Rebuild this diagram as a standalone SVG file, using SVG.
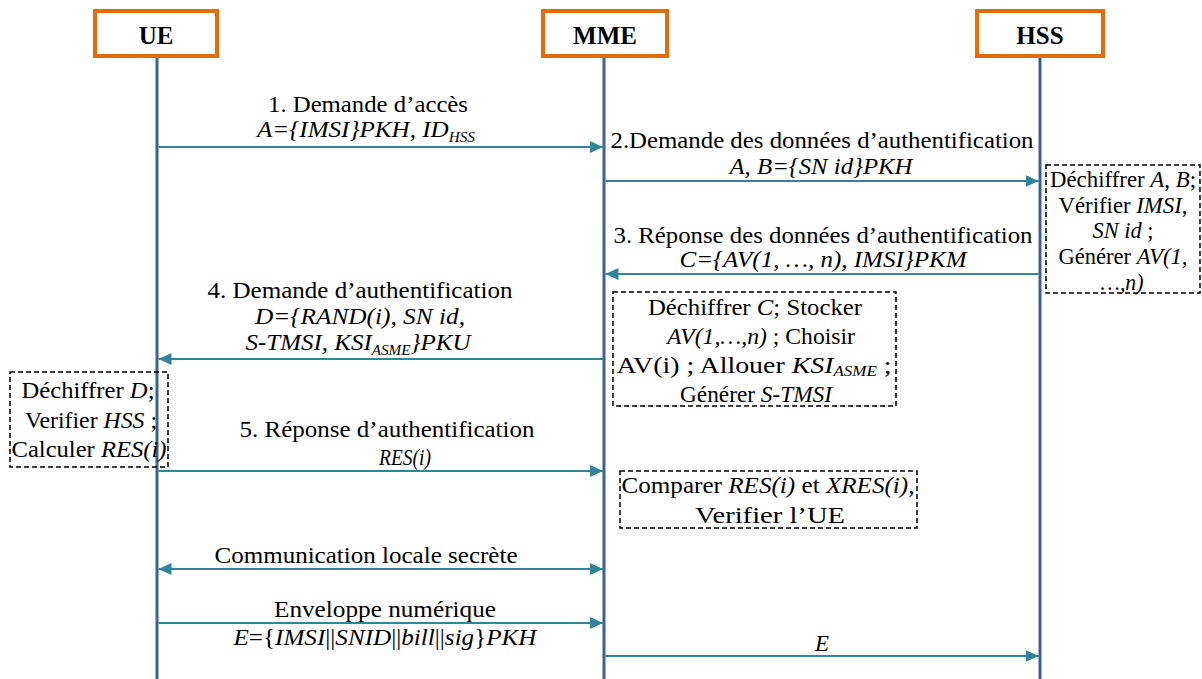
<svg xmlns="http://www.w3.org/2000/svg" width="1202" height="679" viewBox="0 0 1202 679">
<style>
.t{font-family:'Liberation Serif','DejaVu Serif',serif;font-size:23px;fill:#000;text-anchor:middle}
.i{font-style:italic}
.s{font-size:14px}
.title{font-family:'Liberation Serif','DejaVu Serif',serif;font-size:25px;font-weight:bold;text-anchor:middle;fill:#000}
.life{stroke:#3A6395;stroke-width:3;fill:none}
.msg{stroke:#31849B;stroke-width:2.2;fill:none}
.note{fill:none;stroke:#000;stroke-width:1.5;stroke-dasharray:5 3}
.actor{fill:#fff;stroke:#E46C0A;stroke-width:4}
</style>
<defs>
<marker id="ah" markerUnits="userSpaceOnUse" markerWidth="13" markerHeight="12" refX="13" refY="6" orient="auto-start-reverse">
<path d="M0,0 L13,6 L0,12 z" fill="#31849B"/>
</marker>
</defs>
<rect width="1202" height="679" fill="#fff"/>
<g id="lifelines">
<line class="life" x1="157" y1="56" x2="157" y2="679"/>
<line class="life" x1="604" y1="56" x2="604" y2="679"/>
<line class="life" x1="1040" y1="56" x2="1040" y2="679"/>
</g>
<g id="UE"><rect class="actor" x="95" y="11" width="122" height="45"/><text class="title" x="156" y="44">UE</text></g>
<g id="MME"><rect class="actor" x="543" y="11" width="124" height="45"/><text class="title" x="605" y="44">MME</text></g>
<g id="HSS"><rect class="actor" x="977" y="11" width="126" height="45"/><text class="title" x="1040" y="44">HSS</text></g>
<g id="connectors">
<line class="msg" x1="158.5" y1="147" x2="603" y2="147" marker-end="url(#ah)"/>
<line class="msg" x1="605.5" y1="181" x2="1038.5" y2="181" marker-end="url(#ah)"/>
<line class="msg" x1="1038.5" y1="274" x2="605.5" y2="274" marker-end="url(#ah)"/>
<line class="msg" x1="603" y1="359" x2="158.5" y2="359" marker-end="url(#ah)"/>
<line class="msg" x1="158.5" y1="471" x2="603" y2="471" marker-end="url(#ah)"/>
<line class="msg" x1="158.5" y1="569" x2="603" y2="569" marker-start="url(#ah)" marker-end="url(#ah)"/>
<line class="msg" x1="158.5" y1="623" x2="603" y2="623" marker-end="url(#ah)"/>
<line class="msg" x1="605.5" y1="656" x2="1038.5" y2="656" marker-end="url(#ah)"/>
</g>
<g id="labels">
<text class="t" x="368" y="112" textLength="200" lengthAdjust="spacingAndGlyphs">1. Demande d’accès</text>
<text class="t i" x="366" y="137" textLength="218" lengthAdjust="spacingAndGlyphs">A={IMSI}PKH, ID<tspan class="s" dy="5">HSS</tspan></text>
<text class="t" x="822" y="148" textLength="423" lengthAdjust="spacingAndGlyphs">2.Demande des données d’authentification</text>
<text class="t i" x="821" y="174" textLength="183" lengthAdjust="spacingAndGlyphs">A, B={SN id}PKH</text>
<text class="t" x="823" y="243" textLength="419" lengthAdjust="spacingAndGlyphs">3. Réponse des données d’authentification</text>
<text class="t i" x="823" y="267" textLength="287" lengthAdjust="spacingAndGlyphs">C={AV(1, …, n), IMSI}PKM</text>
<text class="t" x="360" y="298" textLength="305" lengthAdjust="spacingAndGlyphs">4. Demande d’authentification</text>
<text class="t i" x="360" y="324" textLength="210" lengthAdjust="spacingAndGlyphs">D={RAND(i), SN id,</text>
<text class="t i" x="358" y="350" textLength="225" lengthAdjust="spacingAndGlyphs">S-TMSI, KSI<tspan class="s" dy="5">ASME</tspan><tspan dy="-5">}PKU</tspan></text>
<text class="t" x="387" y="437" textLength="295" lengthAdjust="spacingAndGlyphs">5. Réponse d’authentification</text>
<text class="t i" x="405" y="465" textLength="52" lengthAdjust="spacingAndGlyphs">RES(i)</text>
<text class="t" x="366" y="563" textLength="303" lengthAdjust="spacingAndGlyphs">Communication locale secrète</text>
<text class="t" x="385" y="617" textLength="222" lengthAdjust="spacingAndGlyphs">Enveloppe numérique</text>
<text class="t" x="385" y="645" textLength="303" lengthAdjust="spacingAndGlyphs"><tspan class="i">E</tspan>={<tspan class="i">IMSI</tspan>||<tspan class="i">SNID</tspan>||<tspan class="i">bill</tspan>||<tspan class="i">sig</tspan>}<tspan class="i">PKH</tspan></text>
<text class="t i" x="822" y="651">E</text>
</g>
<g id="note-hss">
<rect class="note" x="1046" y="165" width="154" height="128"/>
<text class="t" x="1123" y="187" textLength="146" lengthAdjust="spacingAndGlyphs">Déchiffrer <tspan class="i">A</tspan>, <tspan class="i">B</tspan>;</text>
<text class="t" x="1123" y="213" textLength="129" lengthAdjust="spacingAndGlyphs">Vérifier <tspan class="i">IMSI</tspan>,</text>
<text class="t" x="1123" y="238" textLength="61" lengthAdjust="spacingAndGlyphs"><tspan class="i">SN id</tspan> ;</text>
<text class="t" x="1123" y="264" textLength="129" lengthAdjust="spacingAndGlyphs">Générer <tspan class="i">AV(1,</tspan></text>
<text class="t i" x="1122" y="290" textLength="43" lengthAdjust="spacingAndGlyphs">…,n)</text>
</g>
<g id="note-mme">
<rect class="note" x="613" y="292" width="283" height="114"/>
<text class="t" x="755" y="315" textLength="214" lengthAdjust="spacingAndGlyphs">Déchiffrer <tspan class="i">C</tspan>; Stocker</text>
<text class="t" x="761" y="344" textLength="188" lengthAdjust="spacingAndGlyphs"><tspan class="i">AV(1,…,n)</tspan> ; Choisir</text>
<text class="t" x="754" y="373" textLength="275" lengthAdjust="spacingAndGlyphs">AV(i) ; Allouer <tspan class="i">KSI</tspan><tspan class="s i" dy="3">ASME</tspan><tspan dy="-3"> ;</tspan></text>
<text class="t" x="756" y="402" textLength="152" lengthAdjust="spacingAndGlyphs">Générer <tspan class="i">S-TMSI</tspan></text>
</g>
<g id="note-ue">
<rect class="note" x="10" y="372" width="158" height="95"/>
<text class="t" x="88" y="398" textLength="133" lengthAdjust="spacingAndGlyphs">Déchiffrer <tspan class="i">D</tspan>;</text>
<text class="t" x="91" y="428" textLength="132" lengthAdjust="spacingAndGlyphs">Verifier <tspan class="i">HSS</tspan> ;</text>
<text class="t" x="89" y="457" textLength="155" lengthAdjust="spacingAndGlyphs">Calculer <tspan class="i">RES(i)</tspan></text>
</g>
<g id="note-compare">
<rect class="note" x="620" y="471" width="297" height="57"/>
<text class="t" x="768" y="493" textLength="293" lengthAdjust="spacingAndGlyphs">Comparer <tspan class="i">RES(i)</tspan> et <tspan class="i">XRES(i)</tspan>,</text>
<text class="t" x="770" y="523" textLength="150" lengthAdjust="spacingAndGlyphs">Verifier l’UE</text>
</g>
</svg>
